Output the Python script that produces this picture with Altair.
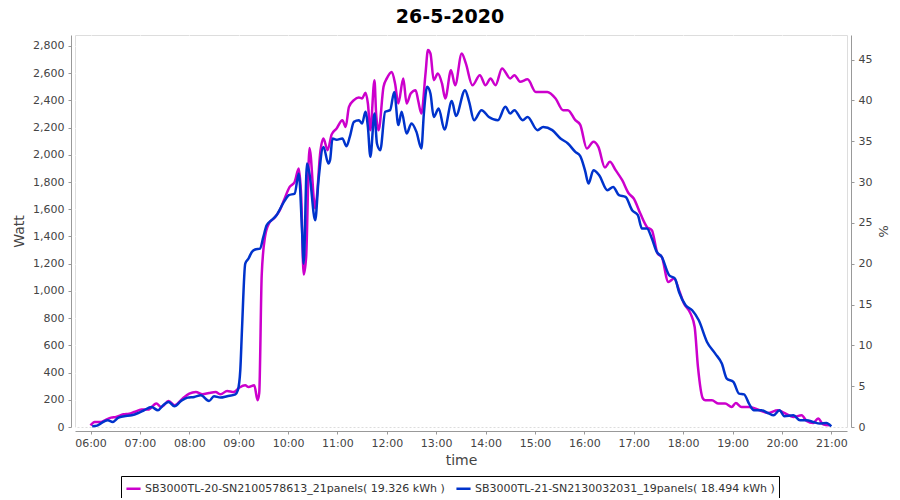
import altair as alt
import pandas as pd

TITLE = "26-5-2020"
SERIES_A = "SB3000TL-20-SN2100578613_21panels( 19.326 kWh )"
SERIES_B = "SB3000TL-21-SN2130032031_19panels( 18.494 kWh )"
COLORS = ["#CC00CC", "#0033CC"]

time_a = ["06:00", "06:05", "06:13", "06:19", "06:25", "06:31", "06:40", "06:47", "06:53", "07:02",
          "07:10", "07:20", "07:26", "07:35", "07:42", "07:52", "08:00", "08:08", "08:16", "08:24",
          "08:32", "08:38", "08:46", "08:54", "09:01", "09:08", "09:12", "09:19", "09:23", "09:25",
          "09:28", "09:32", "09:37", "09:43", "09:50", "09:55", "10:02", "10:08", "10:13", "10:16",
          "10:19", "10:22", "10:26", "10:33", "10:35", "10:39", "10:43", "10:48", "10:53", "10:59",
          "11:06", "11:10", "11:14", "11:20", "11:26", "11:30", "11:34", "11:37", "11:40", "11:45",
          "11:47", "11:50", "11:56", "12:00", "12:06", "12:10", "12:14", "12:20", "12:24", "12:29",
          "12:35", "12:38", "12:42", "12:47", "12:50", "12:53", "12:57", "13:02", "13:07", "13:11",
          "13:18", "13:23", "13:31", "13:36", "13:44", "13:53", "14:00", "14:06", "14:12", "14:20",
          "14:30", "14:35", "14:42", "14:51", "15:01", "15:15", "15:25", "15:34", "15:40", "15:49",
          "15:55", "16:03", "16:11", "16:17", "16:25", "16:31", "16:38", "16:46", "16:54", "17:00",
          "17:08", "17:16", "17:22", "17:29", "17:34", "17:42", "17:49", "17:55", "18:01", "18:09",
          "18:14", "18:18", "18:24", "18:27", "18:35", "18:43", "18:51", "18:59", "19:04", "19:11",
          "19:20", "19:33", "19:43", "19:55", "20:03", "20:14", "20:24", "20:30", "20:38", "20:44",
          "20:50", "20:58"]
watt_a = [12, 37, 37, 54, 69, 74, 93, 98, 110, 128,
          128, 172, 147, 191, 159, 209, 245, 257, 240, 250,
          257, 240, 265, 257, 290, 306, 294, 306, 196, 250,
          1115, 1397, 1497, 1534, 1593, 1666, 1764, 1800, 1899, 1690,
          1120, 1250, 2050, 1605, 1690, 2010, 2120, 2034, 2150, 2193,
          2254, 2205, 2352, 2401, 2421, 2414, 2455, 2377, 2181, 2548,
          2303, 2181, 2499, 2561, 2609, 2524, 2377, 2561, 2377, 2450,
          2475, 2401, 2303, 2597, 2769, 2744, 2548, 2597, 2524, 2414,
          2621, 2510, 2744, 2671, 2511, 2585, 2511, 2561, 2511, 2634,
          2561, 2585, 2536, 2554, 2462, 2462, 2414, 2328, 2328, 2254,
          2220, 2046, 2095, 2058, 1906, 1948, 1887, 1813, 1715, 1679,
          1568, 1470, 1446, 1274, 1250, 1066, 1091, 1005, 907, 833,
          735, 441, 209, 196, 196, 172, 172, 147, 176, 147,
          147, 123, 103, 123, 103, 74, 86, 44, 29, 62,
          20, 12]

time_b = ["06:02", "06:08", "06:13", "06:21", "06:27", "06:34", "06:41", "06:50", "06:58", "07:05", "07:14",
          "07:22", "07:28", "07:35", "07:42", "07:50", "07:58", "08:06", "08:14", "08:24", "08:30",
          "08:38", "08:46", "08:56", "08:59", "09:02", "09:04", "09:08", "09:12", "09:16", "09:20",
          "09:26", "09:30", "09:34", "09:40", "09:46", "09:55", "10:01", "10:08", "10:13", "10:17",
          "10:19", "10:23", "10:26", "10:33", "10:37", "10:43", "10:49", "10:51", "10:54", "10:59",
          "11:06", "11:11", "11:15", "11:20", "11:26", "11:30", "11:34", "11:37", "11:40", "11:45",
          "11:48", "11:52", "11:58", "12:04", "12:09", "12:14", "12:18", "12:24", "12:30", "12:36",
          "12:42", "12:45", "12:49", "12:53", "12:57", "13:03", "13:10", "13:19", "13:24", "13:35",
          "13:40", "13:46", "13:55", "14:04", "14:15", "14:24", "14:30", "14:35", "14:45", "14:51",
          "15:03", "15:10", "15:21", "15:31", "15:40", "15:49", "15:55", "16:01", "16:05", "16:11",
          "16:18", "16:28", "16:35", "16:42", "16:50", "16:58", "17:05", "17:10", "17:16", "17:22",
          "17:28", "17:34", "17:43", "17:50", "17:55", "18:03", "18:11", "18:19", "18:29", "18:39",
          "18:47", "18:53", "19:01", "19:08", "19:14", "19:20", "19:26", "19:35", "19:43", "19:50",
          "19:57", "20:03", "20:14", "20:22", "20:30", "20:38", "20:46", "20:54", "21:00"]
watt_b = [5, 10, 29, 49, 37, 69, 79, 86, 103, 123, 147,
          123, 159, 184, 152, 191, 216, 221, 233, 191, 226,
          216, 226, 240, 270, 420, 711, 1201, 1238, 1286, 1304,
          1311, 1397, 1482, 1519, 1556, 1654, 1703, 1715, 1862, 1446,
          1200, 1936, 1862, 1519, 1813, 2058, 1936, 1960, 2120, 2110,
          2120, 2063, 2131, 2242, 2254, 2230, 2316, 2205, 1985, 2303,
          2083, 2034, 2316, 2328, 2462, 2218, 2316, 2156, 2230, 2168,
          2046, 2303, 2499, 2450, 2278, 2340, 2185, 2395, 2285, 2475,
          2389, 2254, 2328, 2278, 2254, 2352, 2303, 2328, 2254, 2278,
          2181, 2205, 2181, 2120, 2083, 2021, 1990, 1880, 1789, 1887,
          1850, 1740, 1764, 1703, 1690, 1593, 1556, 1458, 1458, 1385,
          1286, 1250, 1115, 1091, 992, 894, 858, 784, 625, 539,
          466, 356, 331, 245, 240, 172, 123, 123, 103, 86,
          123, 79, 86, 49, 49, 37, 25, 29, 5]

x_ticks = list(range(6, 22))
y_ticks = list(range(0, 2801, 200))
pct_ticks = list(range(0, 46, 5))


def to_hours(t):
    h, m = t.split(":")
    return int(h) + int(m) / 60.0


df = pd.concat([
    pd.DataFrame({"hour": [to_hours(t) for t in time_a], "watt": watt_a, "series": SERIES_A, "ord": range(len(time_a))}),
    pd.DataFrame({"hour": [to_hours(t) for t in time_b], "watt": watt_b, "series": SERIES_B, "ord": range(len(time_b))}),
])

FONT = "DejaVu Sans"
LABEL_COLOR = "#444444"
AXIS_COLOR = "#999999"

lines = alt.Chart(df).mark_line(strokeWidth=2.5, interpolate="monotone").encode(
    x=alt.X("hour:Q",
            scale=alt.Scale(domain=[5.686, 21.318], nice=False, zero=False),
            axis=alt.Axis(title="time", values=x_ticks, offset=4,
                          labelExpr="(datum.value < 10 ? '0' : '') + datum.value + ':00'",
                          grid=True, gridColor="white", gridDash=[2, 2], gridWidth=1,
                          domainColor=AXIS_COLOR, tickColor=AXIS_COLOR, tickSize=3,
                          labelFont=FONT, labelFontSize=11, labelColor=LABEL_COLOR, labelPadding=3,
                          titleFont=FONT, titleFontSize=14, titleFontWeight="normal",
                          titleColor=LABEL_COLOR, titlePadding=5, labelFlush=False)),
    y=alt.Y("watt:Q",
            scale=alt.Scale(domain=[0, 2880], nice=False),
            axis=alt.Axis(title="Watt", values=y_ticks, format=",.0f", offset=4,
                          grid=True, gridColor="white", gridDash=[2, 2], gridWidth=1,
                          domainColor=AXIS_COLOR, tickColor=AXIS_COLOR, tickSize=3,
                          labelFont=FONT, labelFontSize=11, labelColor=LABEL_COLOR, labelPadding=4,
                          titleFont=FONT, titleFontSize=14, titleFontWeight="normal",
                          titleColor=LABEL_COLOR, titlePadding=6)),
    color=alt.Color("series:N",
                    scale=alt.Scale(domain=[SERIES_A, SERIES_B], range=COLORS),
                    legend=alt.Legend(title=None, orient="none", legendX=46, legendY=441,
                                      direction="horizontal", columns=2,
                                      strokeColor="black", fillColor="white", padding=4,
                                      symbolType="stroke", symbolStrokeWidth=2.5, symbolSize=200,
                                      labelFont=FONT, labelFontSize=11, labelColor="#333333",
                                      labelLimit=0, labelOffset=3, columnPadding=6, cornerRadius=0)),
    order="ord:Q",
)

pct = alt.Chart(pd.DataFrame({"pct": [0, 48]})).mark_point(opacity=0).encode(
    x=alt.value(0),
    y=alt.Y("pct:Q",
            scale=alt.Scale(domain=[0, 48], nice=False),
            axis=alt.Axis(orient="right", title="%", values=pct_ticks, offset=4, grid=False,
                          domainColor=AXIS_COLOR, tickColor=AXIS_COLOR, tickSize=3,
                          labelFont=FONT, labelFontSize=11, labelColor=LABEL_COLOR, labelPadding=4,
                          titleFont=FONT, titleFontSize=13, titleFontWeight="normal",
                          titleColor=LABEL_COLOR, titlePadding=4)),
)

chart = alt.layer(lines, pct).resolve_scale(y="independent").properties(
    width=772,
    height=392,
    autosize=alt.AutoSizeParams(type="none"),
    padding={"left": 67, "top": 27, "right": 45, "bottom": 71},
    title=alt.TitleParams(TITLE, font=FONT, fontSize=19, fontWeight="bold", color="black",
                          anchor="middle", dx=-11, offset=5),
).configure_view(
    fill="#CCCCCC", stroke="#808080", strokeWidth=1
).configure(background="white")

chart.save("out.html", embed_options={"renderer": "svg", "actions": False})
